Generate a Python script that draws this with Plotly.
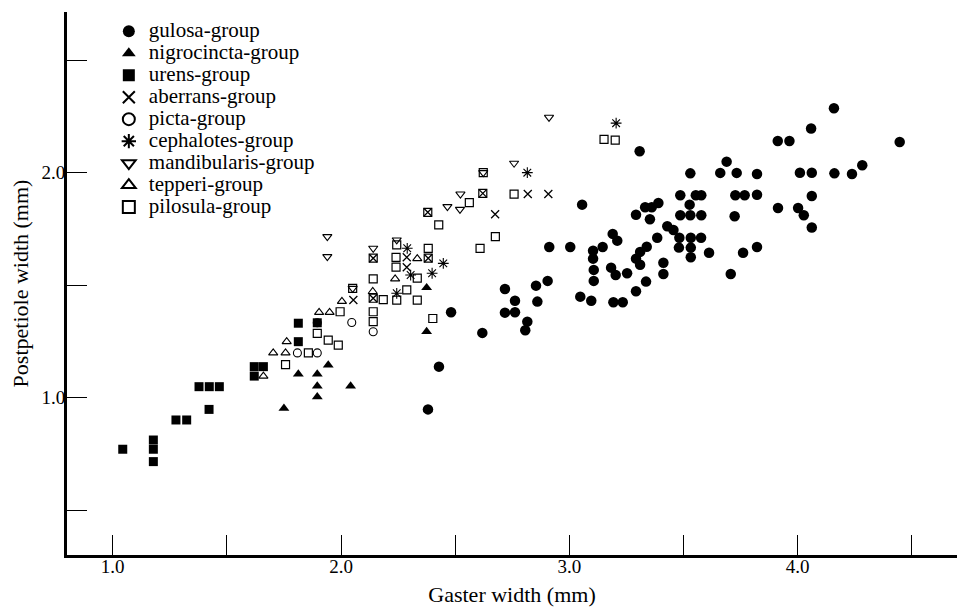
import plotly.graph_objects as go

# ---------------- data ----------------
gulosa_x = [4.159, 4.059, 3.913, 3.964, 4.447, 3.308, 3.689, 4.283, 3.530, 3.661,
            3.733, 3.822, 4.010, 4.062, 4.161, 4.238, 3.486, 3.554, 3.578, 3.727,
            3.768, 3.822, 4.062, 3.056, 3.332, 3.361, 3.390, 3.527, 3.914, 4.002,
            3.292, 3.486, 3.530, 3.578, 3.724, 4.027, 3.353, 4.062, 3.429, 3.456,
            3.190, 3.210, 3.385, 3.482, 3.532, 3.577, 3.004, 3.146, 3.104, 3.339,
            3.480, 3.532, 3.822, 3.104, 3.310, 3.292, 3.310, 3.612, 3.761, 3.532,
            3.412, 3.107, 3.183, 3.203, 3.253, 3.412, 3.707, 3.107, 3.336, 3.048,
            3.096, 3.193, 3.234, 3.292, 2.718, 2.854, 2.905, 2.762, 2.860, 2.482,
            2.718, 2.762, 2.816, 2.807, 2.619, 2.429, 2.381, 2.912]
gulosa_y = [2.286, 2.196, 2.141, 2.141, 2.136, 2.095, 2.049, 2.033, 1.997, 1.999,
            1.999, 1.994, 2.000, 2.000, 1.997, 1.994, 1.900, 1.900, 1.900, 1.900,
            1.900, 1.902, 1.896, 1.858, 1.846, 1.846, 1.865, 1.858, 1.843, 1.843,
            1.813, 1.811, 1.811, 1.811, 1.806, 1.811, 1.793, 1.756, 1.762, 1.745,
            1.728, 1.698, 1.711, 1.711, 1.711, 1.711, 1.670, 1.670, 1.653, 1.671,
            1.667, 1.667, 1.670, 1.618, 1.648, 1.618, 1.591, 1.644, 1.644, 1.624,
            1.600, 1.568, 1.578, 1.545, 1.553, 1.550, 1.550, 1.519, 1.516, 1.449,
            1.431, 1.424, 1.424, 1.473, 1.483, 1.498, 1.519, 1.431, 1.427, 1.380,
            1.378, 1.380, 1.338, 1.300, 1.288, 1.138, 0.948, 1.670]

nigro_x = [1.750, 1.813, 1.896, 1.896, 1.896, 1.944, 2.042, 2.375, 2.375]
nigro_y = [0.953, 1.105, 1.105, 1.052, 1.004, 1.145, 1.052, 1.489, 1.294]

urens_x = [1.044, 1.178, 1.178, 1.178, 1.277, 1.324, 1.378, 1.423, 1.467, 1.422,
           1.620, 1.660, 1.620, 1.813, 1.813, 1.896]
urens_y = [0.771, 0.812, 0.771, 0.716, 0.901, 0.901, 1.049, 1.049, 1.049, 0.948,
           1.138, 1.138, 1.096, 1.331, 1.249, 1.333]

aberrans_x = [2.908, 2.818, 2.675, 2.621, 2.380, 2.288, 2.288, 2.054, 2.141, 2.382, 2.141]
aberrans_y = [1.905, 1.905, 1.815, 1.908, 1.824, 1.624, 1.580, 1.434, 1.620, 1.620, 1.442]

picta_x = [2.047, 2.141, 1.809, 1.896, 1.896]
picta_y = [1.334, 1.293, 1.199, 1.199, 1.333]

cephal_x = [3.205, 2.816, 2.448, 2.399, 2.305, 2.244, 2.290]
cephal_y = [2.220, 2.000, 1.597, 1.553, 1.545, 1.464, 1.664]

mandib_x = [1.940, 1.940, 2.141, 2.244, 2.466, 2.523, 2.521, 2.623, 2.758, 2.911, 2.051]
mandib_y = [1.716, 1.627, 1.664, 1.701, 1.849, 1.905, 1.837, 2.000, 2.042, 2.246, 1.486]

tepperi_x = [2.334, 2.237, 2.139, 2.004, 1.904, 1.950, 1.762, 1.703, 1.757, 1.660]
tepperi_y = [1.618, 1.528, 1.472, 1.428, 1.379, 1.379, 1.249, 1.199, 1.199, 1.096]

pilosula_x = [3.152, 3.201, 2.623, 2.621, 2.758, 2.562, 2.380, 2.428, 2.676, 2.609,
              2.244, 2.141, 2.382, 2.382, 2.241, 2.241, 2.334, 2.141, 2.288, 2.141,
              2.185, 2.244, 2.334, 2.051, 2.402, 1.996, 2.141, 2.141, 1.896, 1.944,
              1.988, 1.857, 1.757]
pilosula_y = [2.148, 2.145, 2.000, 1.908, 1.905, 1.867, 1.824, 1.768, 1.716, 1.664,
              1.679, 1.620, 1.664, 1.620, 1.624, 1.580, 1.531, 1.528, 1.479, 1.442,
              1.436, 1.434, 1.434, 1.486, 1.352, 1.382, 1.382, 1.338, 1.286, 1.256,
              1.234, 1.199, 1.147]

group_names = ["gulosa-group", "nigrocincta-group", "urens-group", "aberrans-group",
               "picta-group", "cephalotes-group", "mandibularis-group", "tepperi-group",
               "pilosula-group"]

x_tick_vals = [1.0, 1.5, 2.0, 2.5, 3.0, 3.5, 4.0, 4.5]
x_tick_text = ["1.0", "", "2.0", "", "3.0", "", "4.0", ""]
y_tick_vals = [0.5, 1.0, 1.5, 2.0, 2.5]
y_tick_text = ["", "1.0", "", "2.0", ""]

# ---------------- figure ----------------
FONT = "Liberation Serif, Times New Roman, serif"
series = [
    (gulosa_x, gulosa_y, "circle", 10.5, 0),
    (nigro_x, nigro_y, "triangle-up", 9.5, 0),
    (urens_x, urens_y, "square", 9, 0),
    (aberrans_x, aberrans_y, "x-thin-open", 8, 1.3),
    (picta_x, picta_y, "circle-open", 8, 1.1),
    (cephal_x, cephal_y, "asterisk-open", 9, 1.1),
    (mandib_x, mandib_y, "triangle-down-open", 8, 1.1),
    (tepperi_x, tepperi_y, "triangle-up-open", 8, 1.1),
    (pilosula_x, pilosula_y, "square-open", 8, 1.2),
]

fig = go.Figure()
for (xs, ys, sym, sz, lw), name in zip(series, group_names):
    fig.add_trace(go.Scatter(
        x=xs, y=ys, mode="markers",
        name='<span style="font-size:21px">' + name + "</span>",
        marker=dict(symbol=sym, size=sz, color="black",
                    line=dict(color="black", width=lw)),
    ))

fig.update_layout(
    width=957, height=607,
    margin=dict(l=67, r=0, t=12, b=52),
    paper_bgcolor="white", plot_bgcolor="white",
    font=dict(family=FONT, color="black", size=19),
    showlegend=True,
    legend=dict(x=0.047, y=0.994, xanchor="left", yanchor="top",
                bgcolor="rgba(0,0,0,0)", borderwidth=0,
                font=dict(family=FONT, size=14.6, color="black"),
                itemsizing="constant", tracegroupgap=0, traceorder="normal"),
)
fig.update_xaxes(
    range=[0.7998, 4.698], showgrid=False, zeroline=False,
    showline=True, linecolor="black", linewidth=2.5,
    ticks="inside", ticklen=20, tickwidth=1.2, tickcolor="black",
    tickvals=x_tick_vals, ticktext=x_tick_text, ticklabelstandoff=-8,
    tickfont=dict(family=FONT, size=19),
    title=dict(text="Gaster width (mm)", font=dict(family=FONT, size=22), standoff=12),
)
fig.update_yaxes(
    range=[0.301, 2.714], showgrid=False, zeroline=False,
    showline=True, linecolor="black", linewidth=3,
    ticks="inside", ticklen=20, tickwidth=1.2, tickcolor="black",
    tickvals=y_tick_vals, ticktext=y_tick_text, ticklabelstandoff=-5,
    tickfont=dict(family=FONT, size=19),
    title=dict(text="Postpetiole width (mm)", font=dict(family=FONT, size=22), standoff=7),
)

fig.write_html("out.html", config={"displayModeBar": False},
               post_script="document.body.style.margin='0px';document.body.style.padding='0px';")
